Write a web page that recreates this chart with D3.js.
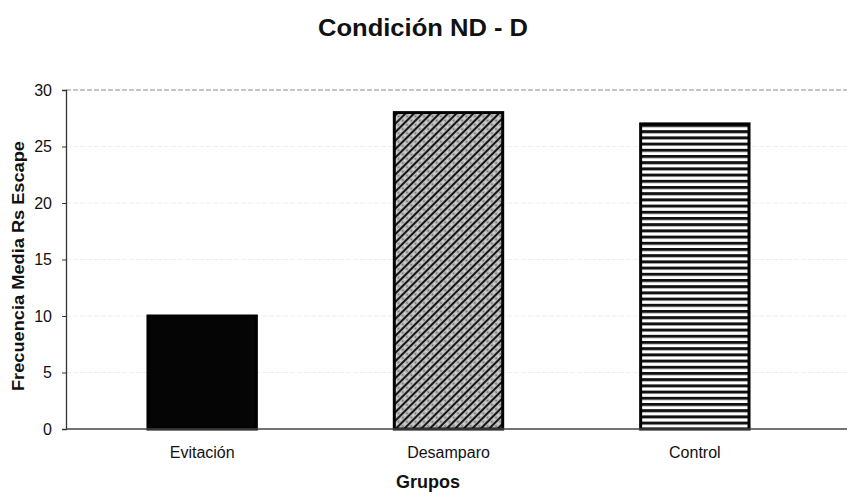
<!DOCTYPE html>
<html>
<head>
<meta charset="utf-8">
<script src="https://cdn.jsdelivr.net/npm/d3@7"></script>
<style>
  body { margin: 0; background: #fff; }
  svg { display: block; font-family: "Liberation Sans", Arial, sans-serif; }
</style>
</head>
<body>
<svg id="chart" width="847" height="497"></svg>
<script>
const categories = ["Evitación", "Desamparo", "Control"];
const values = [10, 28, 27];
const yTicks = [0, 5, 10, 15, 20, 25, 30];
const fills = ["solid", "diag", "horiz"];

const svg = d3.select("#chart");
const axisLeft = 66, axisRight = 847, yTop = 90, yBottom = 429;
const FONT = "Liberation Sans, Arial, sans-serif";

const defs = svg.append("defs");
const pd = defs.append("pattern").attr("id", "diag").attr("patternUnits", "userSpaceOnUse")
  .attr("width", 6).attr("height", 6).attr("patternTransform", "rotate(45)");
pd.append("rect").attr("width", 6).attr("height", 6).attr("fill", "#b8b8b8");
pd.append("rect").attr("x", 0).attr("y", 0).attr("width", 2).attr("height", 6).attr("fill", "#151515");
pd.append("rect").attr("x", 3.4).attr("y", 0.8).attr("width", 1.3).attr("height", 1.3).attr("fill", "#f2f2f2");
pd.append("rect").attr("x", 3.4).attr("y", 3.8).attr("width", 1.3).attr("height", 1.3).attr("fill", "#555");
const ph = defs.append("pattern").attr("id", "horiz").attr("patternUnits", "userSpaceOnUse")
  .attr("width", 8).attr("height", 6.2);
ph.append("rect").attr("width", 8).attr("height", 6.2).attr("fill", "#fff");
ph.append("rect").attr("y", 0).attr("width", 8).attr("height", 3).attr("fill", "#111");

const x = d3.scaleBand().domain(categories).range([79, 818]).paddingInner(0.56).paddingOuter(0.28);
const y = d3.scaleLinear().domain([0, 30]).range([yBottom, yTop]);

// gridlines
svg.append("g").selectAll("line").data(yTicks.filter(t => t > 0)).join("line")
  .attr("x1", axisLeft).attr("x2", axisRight)
  .attr("y1", d => y(d)).attr("y2", d => y(d))
  .attr("stroke", d => d === 30 ? "#8a8a8a" : "#efefef")
  .attr("stroke-width", 1.2)
  .attr("stroke-dasharray", "5,2");

// bars
svg.append("g").selectAll("rect").data(categories).join("rect")
  .attr("x", d => x(d))
  .attr("y", (d, i) => y(values[i]))
  .attr("width", x.bandwidth())
  .attr("height", (d, i) => y(0) - y(values[i]))
  .attr("fill", (d, i) => fills[i] === "solid" ? "#050505" : `url(#${fills[i]})`)
  .attr("stroke", "#000")
  .attr("stroke-width", 3);

// y axis
const yAxis = d3.axisLeft(y).tickValues(yTicks).tickSize(4).tickPadding(10);
const gy = svg.append("g").attr("transform", `translate(${axisLeft},0)`).call(yAxis);
gy.select(".domain").attr("stroke", "#333").attr("stroke-width", 1.3);
gy.selectAll(".tick line").attr("stroke", "#333");
gy.selectAll("text").attr("font-size", 16).attr("fill", "#111").attr("font-family", FONT);

// x axis
const xAxis = d3.axisBottom(x).tickSize(0).tickPadding(18);
const gx = svg.append("g").attr("transform", `translate(0,${yBottom})`).call(xAxis);
gx.select(".domain").remove();
gx.append("line").attr("x1", axisLeft).attr("x2", axisRight).attr("y1", 0).attr("y2", 0)
  .attr("stroke", "#444").attr("stroke-width", 1.5);
gx.selectAll("text").attr("font-size", 16).attr("fill", "#111").attr("font-family", FONT);

// titles
svg.append("text").attr("x", 423).attr("y", 36).attr("text-anchor", "middle")
  .attr("font-size", 23).attr("font-weight", "bold").attr("fill", "#111")
  .attr("textLength", 210).attr("lengthAdjust", "spacingAndGlyphs").text("Condición ND - D");
svg.append("text").attr("x", 428).attr("y", 488).attr("text-anchor", "middle")
  .attr("font-size", 18).attr("font-weight", "bold").attr("fill", "#111").text("Grupos");
svg.append("text").attr("transform", `translate(24,266) rotate(-90)`)
  .attr("text-anchor", "middle").attr("font-size", 16).attr("font-weight", "bold").attr("fill", "#111")
  .attr("textLength", 250).attr("lengthAdjust", "spacingAndGlyphs")
  .text("Frecuencia Media Rs Escape");
</script>
</body>
</html>
